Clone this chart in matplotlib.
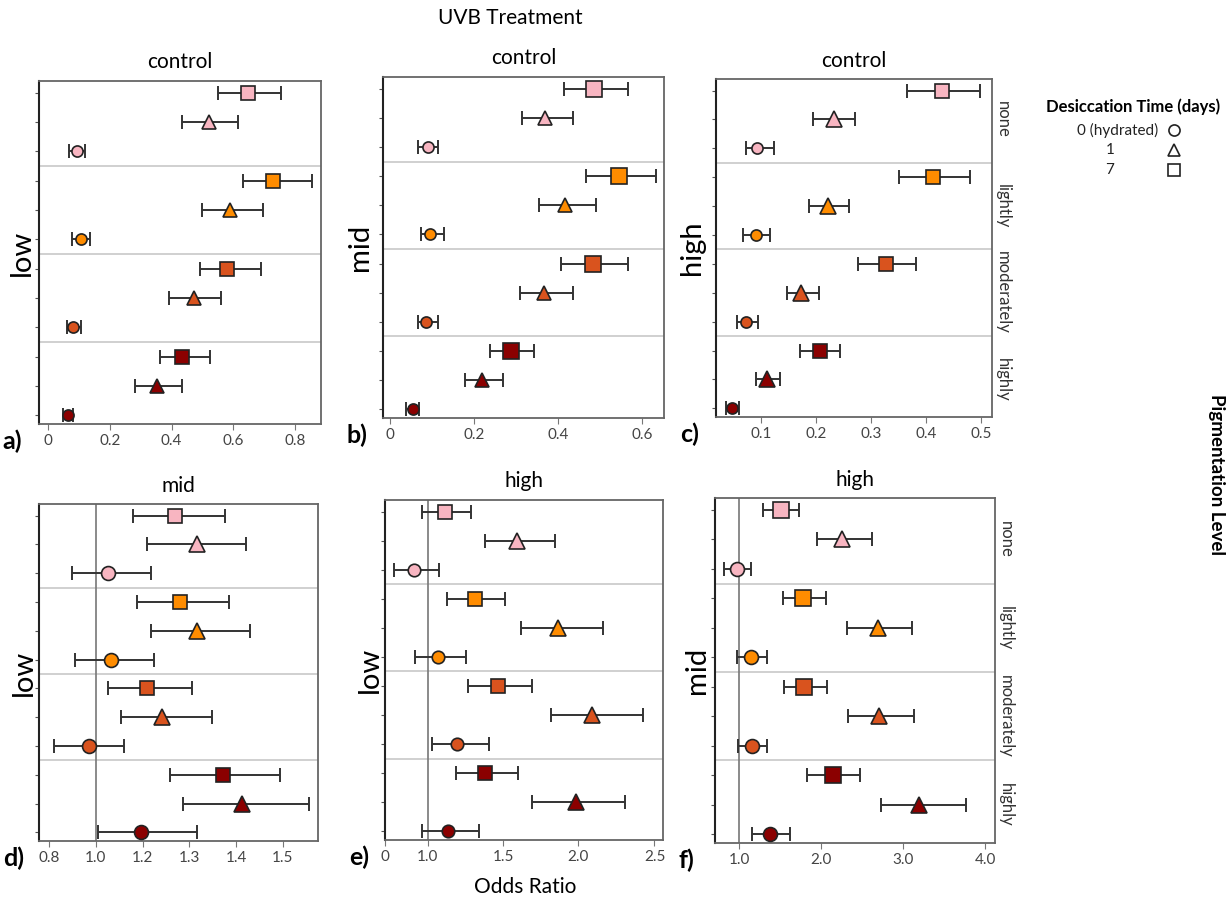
import numpy as np
import matplotlib
matplotlib.use("Agg")
import matplotlib.pyplot as plt
from matplotlib.lines import Line2D

plt.rcParams['font.family'] = ['Lato', 'DejaVu Sans']

pigment = ['none', 'lightly', 'moderately', 'highly']
days = ['7', '1', '0 (hydrated)']   # order drawn within each pigment group (top to bottom)
colors = ['#F8B5C1', '#FF8C00', '#D9531E', '#8B0000']
shapes = ['s', '^', 'o']

# odds ratios, rows = pigment level, cols = [7 days, 1 day, 0 days]
or_a = [[0.648, 0.520, 0.092], [0.730, 0.589, 0.106], [0.580, 0.472, 0.081], [0.435, 0.352, 0.063]]
lo_a = [[0.551, 0.435, 0.068], [0.632, 0.500, 0.077], [0.494, 0.391, 0.061], [0.364, 0.283, 0.047]]
hi_a = [[0.754, 0.616, 0.119], [0.857, 0.697, 0.135], [0.689, 0.559, 0.106], [0.524, 0.434, 0.079]]

or_b = [[0.486, 0.370, 0.090], [0.546, 0.416, 0.096], [0.484, 0.366, 0.086], [0.288, 0.218, 0.054]]
lo_b = [[0.414, 0.314, 0.066], [0.468, 0.354, 0.074], [0.408, 0.310, 0.066], [0.238, 0.178, 0.038]]
hi_b = [[0.566, 0.436, 0.114], [0.634, 0.490, 0.128], [0.566, 0.436, 0.114], [0.342, 0.268, 0.068]]

or_c = [[0.429, 0.233, 0.093], [0.413, 0.222, 0.091], [0.327, 0.173, 0.073], [0.208, 0.110, 0.047]]
lo_c = [[0.366, 0.194, 0.072], [0.351, 0.188, 0.068], [0.277, 0.147, 0.056], [0.171, 0.091, 0.037]]
hi_c = [[0.499, 0.270, 0.123], [0.480, 0.259, 0.117], [0.381, 0.206, 0.094], [0.244, 0.134, 0.059]]

or_d = [[1.270, 1.316, 1.054], [1.279, 1.316, 1.067], [1.209, 1.241, 0.971], [1.371, 1.412, 1.193]]
lo_d = [[1.160, 1.209, 0.900], [1.176, 1.219, 0.911], [1.054, 1.107, 0.820], [1.259, 1.286, 1.011]]
hi_d = [[1.376, 1.421, 1.218], [1.384, 1.430, 1.225], [1.305, 1.349, 1.119], [1.493, 1.555, 1.316]]

or_e = [[1.112, 1.590, 0.677], [1.311, 1.866, 1.068], [1.463, 2.090, 1.194], [1.377, 1.982, 1.132]]
lo_e = [[0.869, 1.377, 0.215], [1.128, 1.617, 0.692], [1.267, 1.815, 1.029], [1.189, 1.694, 0.869]]
hi_e = [[1.289, 1.844, 1.073], [1.509, 2.163, 1.253], [1.694, 2.423, 1.403], [1.597, 2.306, 1.337]]

or_f = [[1.505, 2.250, 0.976], [1.781, 2.689, 1.138], [1.794, 2.709, 1.159], [2.148, 3.194, 1.374]]
lo_f = [[1.285, 1.952, 0.813], [1.529, 2.310, 0.967], [1.549, 2.323, 0.980], [1.822, 2.730, 1.151]]
hi_f = [[1.733, 2.624, 1.138], [2.054, 3.112, 1.342], [2.066, 3.137, 1.342], [2.473, 3.768, 1.619]]

ticks_a = [0, 0.2, 0.4, 0.6, 0.8]
ticks_b = [0, 0.2, 0.4, 0.6]
ticks_c = [0.1, 0.2, 0.3, 0.4, 0.5]
ticks_d = [0.8, 1.0, 1.2, 1.3, 1.4, 1.5]
ticks_e = [0, 1.0, 1.5, 2.0, 2.5]
ticks_f = [1.0, 2.0, 3.0, 4.0]


def piecewise(vals, pos):
    vals = np.asarray(vals, float)
    pos = np.asarray(pos, float)

    def conv(x, a, b):
        x = np.asarray(x, float)
        y = np.interp(x, a, b)
        y = np.where(x < a[0], b[0] + (x - a[0]) * (b[1] - b[0]) / (a[1] - a[0]), y)
        y = np.where(x > a[-1], b[-1] + (x - a[-1]) * (b[-1] - b[-2]) / (a[-1] - a[-2]), y)
        return y

    return (lambda x: conv(x, vals, pos)), (lambda x: conv(x, pos, vals))


fig = plt.figure(figsize=(12.32, 9.07), dpi=100)
W, H = 1232., 907.


def add_ax(l, r, t, b):
    return fig.add_axes([l / W, 1 - b / H, (r - l) / W, (b - t) / H])


panels = [
    # box, data, ticks, labels, xlim, title, side label, side x, letter, ref line, sizes, strip, scale
    ((39, 321, 81, 424), (or_a, lo_a, hi_a), ticks_a, ['0', '0.2', '0.4', '0.6', '0.8'],
     (-0.03, 0.885), 'control', 'low', 22, 'a)', None, (10, 10, 8), False, None),
    ((383, 664, 77, 418), (or_b, lo_b, hi_b), ticks_b, ['0', '0.2', '0.4', '0.6'],
     (-0.017, 0.653), 'control', 'mid', 360, 'b)', None, (11, 10, 8), False, None),
    ((716, 992, 79, 417), (or_c, lo_c, hi_c), ticks_c, ['0.1', '0.2', '0.3', '0.4', '0.5'],
     (0.018, 0.52), 'control', 'high', 692, 'c)', None, (10, 11, 8), True, None),
    ((39, 318, 504, 841), (or_d, lo_d, hi_d), ticks_d, ['0.8', '1.0', '1.2', '1.3', '1.4', '1.5'],
     (0.757, 1.575), 'mid', 'low', 24, 'd)', 1.0, (10, 12, 10), False,
     piecewise(ticks_d, [0, 1, 2, 3, 4, 5])),
    ((385, 663, 500, 840), (or_e, lo_e, hi_e), ticks_e, ['0', '1.0', '1.5', '2.0', '2.5'],
     (0.0, 2.556), 'high', 'low', 370, 'e)', 1.0, (10, 12, 9), False,
     piecewise(ticks_e, [0, 0.57, 1.57, 2.57, 3.58])),
    ((715, 995, 498, 843), (or_f, lo_f, hi_f), ticks_f, ['1.0', '2.0', '3.0', '4.0'],
     (0.703, 4.12), 'high', 'mid', 697, 'f)', 1.0, (11, 12, 10), True, None),
]

for (box, (est, lo, hi), ticks, tlabels, xlim, title, side, side_x, letter, ref, sizes,
     strip, fscale) in panels:
    ax = add_ax(*box)
    if fscale is not None:
        ax.set_xscale('function', functions=fscale)
    est = np.asarray(est)
    lo = np.asarray(lo)
    hi = np.asarray(hi)
    for g in range(4):
        for k in range(3):
            y = 11 - (g * 3 + k)
            ax.errorbar(est[g, k], y, xerr=[[est[g, k] - lo[g, k]], [hi[g, k] - est[g, k]]],
                        fmt='none', ecolor='#333333', elinewidth=1.4, capsize=5, capthick=1.4, zorder=2)
            ax.plot(est[g, k], y, marker=shapes[k], ms=sizes[k], color=colors[g],
                    mec='#222222', mew=1.2, ls='none', zorder=3)
    for yb in [2.5, 5.5, 8.5]:
        ax.axhline(yb, color='#c8c8c8', lw=1.2, zorder=1)
    if ref is not None:
        ax.axvline(ref, color='#777777', lw=1.2, zorder=1)
    ax.set_xlim(*xlim)
    ax.set_ylim(-0.3, 11.4)
    ax.set_xticks(ticks)
    ax.set_xticklabels(tlabels)
    ax.set_yticks(range(12))
    ax.set_yticklabels([])
    ax.tick_params(axis='x', labelsize=11, labelcolor='#444444', colors='#777777', length=4)
    ax.tick_params(axis='y', length=3, colors='#555555')
    for s in ['top', 'right', 'bottom']:
        ax.spines[s].set_color('#666666')
        ax.spines[s].set_linewidth(1.3)
    ax.spines['left'].set_color('#222222')
    ax.spines['left'].set_linewidth(1.5)
    ax.set_title(title, fontsize=15, pad=9)
    fig.text(side_x / W, ax.get_position().y0 + ax.get_position().height / 2, side,
             fontsize=21, rotation=90, ha='center', va='center')
    ax.text(-0.13, -0.05, letter, transform=ax.transAxes, fontsize=18, fontweight='bold',
            ha='left', va='center')
    if strip:
        for g, name in enumerate(pigment):
            yc = 11 - (g * 3 + 1)
            ax.text(1.04, yc, name, transform=ax.get_yaxis_transform(), rotation=-90,
                    fontsize=12, color='#333333', ha='center', va='center')

fig.text(510 / W, 1 - 18 / H, 'UVB Treatment', fontsize=15, ha='center', va='center')
fig.text(525 / W, 1 - 887 / H, 'Odds Ratio', fontsize=15, ha='center', va='center')

# legend for desiccation time
fig.text(1133 / W, 1 - 107 / H, 'Desiccation Time (days)', fontsize=12, fontweight='bold',
         ha='center', va='center')
leg_rows = [('0 (hydrated)', 'o', 130), ('1', '^', 150), ('7', 's', 170)]
for lab, mk, yy in leg_rows:
    x_txt = 1158 if lab.startswith('0') else 1110
    fig.text(x_txt / W, 1 - yy / H, lab, fontsize=11, ha='right' if lab.startswith('0') else 'center',
             va='center', color='#222222')
    fig.add_artist(Line2D([1174 / W], [1 - yy / H], marker=mk, ms=8, mfc='none', mec='#222222',
                          mew=1.2, ls='none', transform=fig.transFigure))

fig.text(1217 / W, 1 - 475 / H, 'Pigmentation Level', fontsize=13.5, fontweight='bold',
         rotation=-90, ha='center', va='center')

fig.savefig('out.png', dpi=100)
